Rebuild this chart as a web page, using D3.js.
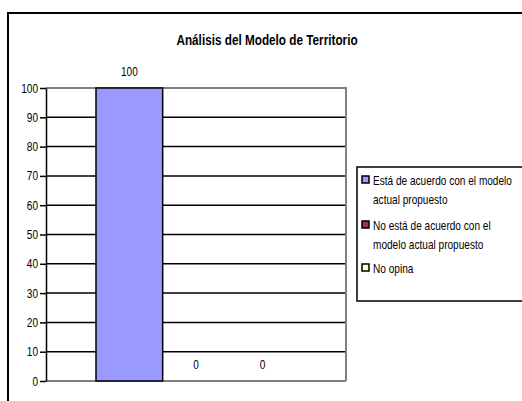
<!DOCTYPE html>
<html><head><meta charset="utf-8">
<script src="https://cdn.jsdelivr.net/npm/d3@7"></script>
<style>body{margin:0;background:#fff;} svg{display:block;}</style>
</head><body>
<svg id="c" width="522" height="401"></svg>
<script>
const title = "Análisis del Modelo de Territorio";
const seriesNames = [
  ["Está de acuerdo con el modelo", "actual propuesto"],
  ["No está de acuerdo con el", "modelo actual propuesto"],
  ["No opina"]
];
const seriesValues = [100, 0, 0];
const seriesColors = ["#9999FF", "#993366", "#FFFFCC"];
const yTicks = [0,10,20,30,40,50,60,70,80,90,100];

const font = "'Liberation Sans',Arial,sans-serif";
const SX = 0.84;
const svg = d3.select("#c");

function narrowText(sel, x, y, anchor){
  return sel.append("text").attr("transform",`translate(${x},${y}) scale(${SX},1)`)
    .attr("text-anchor",anchor||"start").attr("font-family",font);
}

// outer chart border
svg.append("rect").attr("x",8).attr("y",13).attr("width",530).attr("height",400)
  .attr("fill","#fff").attr("stroke","#000").attr("stroke-width",2);

narrowText(svg,267,45,"middle").attr("font-weight","bold").attr("font-size",14).text(title);

const L=46, R=346, T=88, B=381;
const y = d3.scaleLinear().domain([0,100]).range([B,T]);
const x0 = d3.scaleBand().domain(["c"]).range([L,R]).paddingInner(0).paddingOuter(0);
const groupW = x0.bandwidth();
const barW = groupW/(3+1.5);
const gx = x0("c") + (groupW - 3*barW)/2;
const x1 = d3.scaleBand().domain(d3.range(3)).range([gx, gx+3*barW]);

// gridlines
svg.append("g").selectAll("line").data(yTicks.filter(d=>d>0 && d<100)).join("line")
  .attr("x1",L).attr("x2",R).attr("y1",d=>y(d)).attr("y2",d=>y(d))
  .attr("stroke","#000").attr("stroke-width",1.5);

// plot border top/right gray
svg.append("path").attr("d",`M${L},${T}H${R}V${B}`).attr("fill","none")
  .attr("stroke","#808080").attr("stroke-width",2);
svg.append("line").attr("x1",L).attr("x2",R).attr("y1",B).attr("y2",B)
  .attr("stroke","#808080").attr("stroke-width",2);

// bars
svg.append("g").selectAll("rect").data(seriesValues).join("rect")
  .attr("x",(d,i)=>x1(i)).attr("width",x1.bandwidth())
  .attr("y",d=>y(d)).attr("height",d=>B-y(d))
  .attr("fill",(d,i)=>seriesColors[i]).attr("stroke","#000").attr("stroke-width",1.5);

// value labels
seriesValues.forEach((d,i)=>{
  narrowText(svg, x1(i)+x1.bandwidth()/2, y(d)-12, "middle").attr("font-size",12).text(d);
});

// y axis
const ax = svg.append("g").attr("transform",`translate(${L},0)`)
  .call(d3.axisLeft(y).tickValues(yTicks).tickSize(6).tickSizeOuter(0));
ax.select(".domain").attr("stroke","#000").attr("stroke-width",1.5);
ax.selectAll(".tick line").attr("stroke","#000").attr("stroke-width",1.5);
ax.selectAll(".tick text").attr("font-family",font).attr("font-size",12).attr("fill","#000")
  .attr("x",0).attr("dy",null).attr("y",0)
  .attr("transform",`translate(-8,4) scale(${SX},1)`);

// legend
svg.append("rect").attr("x",357).attr("y",167).attr("width",200).attr("height",134)
  .attr("fill","#fff").attr("stroke","#000").attr("stroke-width",1.5);
const entryY = [173, 218, 261];
seriesNames.forEach((lines,i)=>{
  svg.append("rect").attr("x",362).attr("y",entryY[i]+3).attr("width",7).attr("height",7)
    .attr("fill",seriesColors[i]).attr("stroke","#000").attr("stroke-width",1.5);
  lines.forEach((t,j)=>{
    narrowText(svg, 373, entryY[i]+12+j*19).attr("font-size",12).text(t);
  });
});
</script>
</body></html>
